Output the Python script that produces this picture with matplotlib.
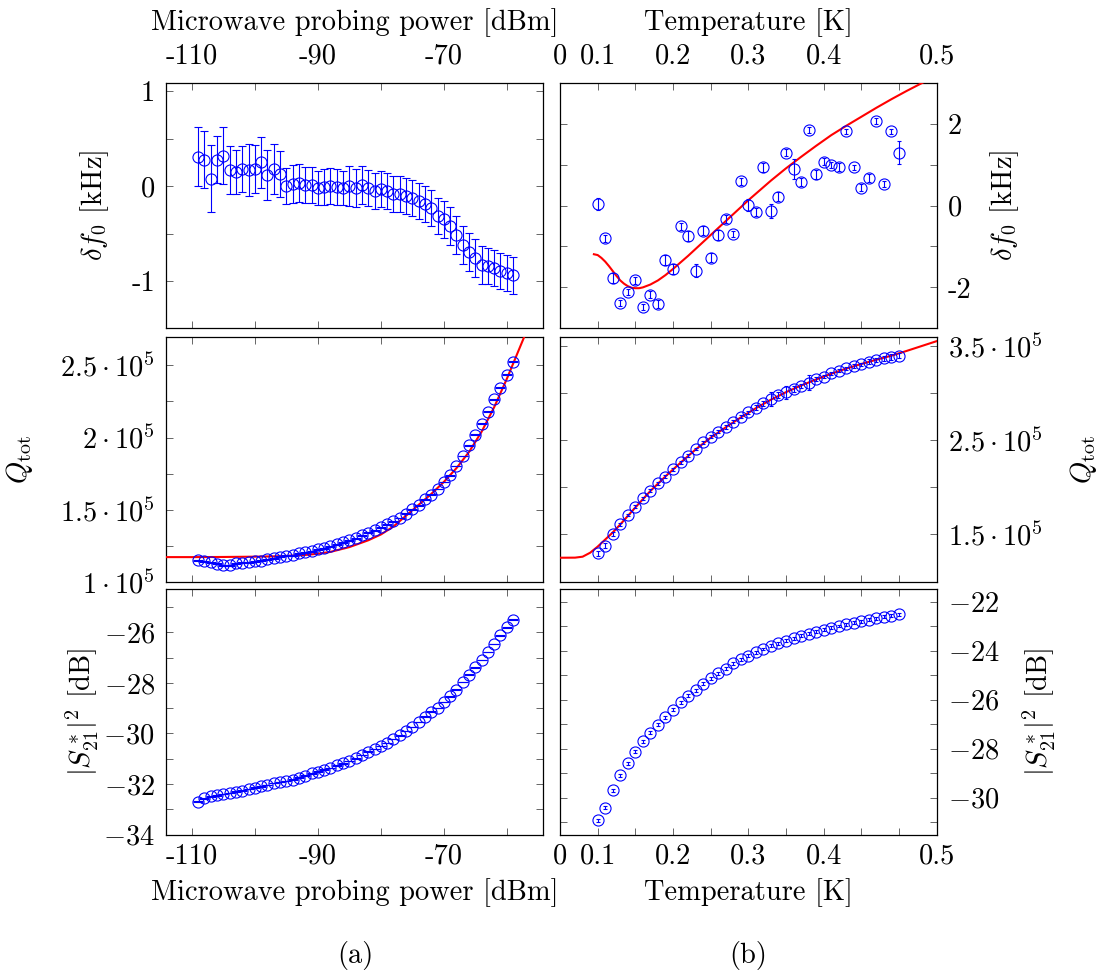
import numpy as np
import matplotlib
matplotlib.use('Agg')
import matplotlib.pyplot as plt

plt.rcParams['font.family'] = 'serif'
plt.rcParams['font.serif'] = ['cmr10']
plt.rcParams['mathtext.fontset'] = 'cm'
plt.rcParams['axes.unicode_minus'] = False
plt.rcParams['axes.formatter.use_mathtext'] = True

# ---- data, column (a): power sweep ----
power = list(range(-109, -58))   # dBm, 51 points

df_power = [0.31, 0.28, 0.08, 0.28, 0.32, 0.17, 0.15, 0.18, 0.17, 0.18,
            0.25, 0.12, 0.18, 0.13, 0.00, 0.02, 0.035, 0.01, 0.01, -0.02,
            -0.01, 0.00, -0.01, -0.02, 0.00, -0.02, 0.01, -0.02, -0.05, -0.03,
            -0.05, -0.08, -0.08, -0.10, -0.12, -0.16, -0.19, -0.23, -0.31, -0.35,
            -0.42, -0.51, -0.62, -0.69, -0.76, -0.83, -0.84, -0.86, -0.89, -0.91,
            -0.94]
df_power_err = [0.31, 0.30, 0.35, 0.25, 0.30, 0.25, 0.23, 0.24, 0.27, 0.25,
                0.27, 0.26, 0.26, 0.24, 0.19, 0.20, 0.20, 0.19, 0.19, 0.18,
                0.19, 0.19, 0.19, 0.18, 0.21, 0.20, 0.20, 0.19, 0.19, 0.19,
                0.19, 0.19, 0.19, 0.19, 0.19, 0.19, 0.19, 0.19, 0.19, 0.19,
                0.20, 0.20, 0.20, 0.20, 0.20, 0.20, 0.19, 0.19, 0.19, 0.19,
                0.19]

q_power = [115100, 114410, 113950, 112790, 111640, 111640, 113020, 113480, 113950, 114410,
           114870, 115790, 116710, 117640, 118330, 118790, 119940, 120640, 121330, 122710,
           123630, 125010, 126160, 127780, 128930, 130550, 132390, 134240, 135850, 137930,
           140000, 142080, 144390, 147380, 150380, 153150, 157300, 160530, 164500, 169290,
           173900, 180360, 187270, 194660, 202040, 209650, 217720, 226480, 234550, 243540,
           252300]
q_power_fit_x = [-115, -110, -105, -100, -96, -92, -90, -88, -85, -82, -80, -78, -76, -74,
                 -72, -70, -68, -66, -64, -62, -60, -58, -57]
q_power_fit = [117400, 117400, 117500, 117700, 118000, 118900, 119700, 121000, 124300, 129000,
               133000, 138500, 146000, 153500, 161000, 169300, 178800, 190000, 204000, 221000,
               240500, 261500, 272000]

s21_power = [-32.70, -32.57, -32.49, -32.45, -32.39, -32.35, -32.30, -32.26, -32.20, -32.14,
             -32.09, -32.04, -31.97, -31.93, -31.88, -31.83, -31.75, -31.67, -31.58, -31.51,
             -31.43, -31.36, -31.26, -31.18, -31.09, -30.99, -30.86, -30.72, -30.62, -30.50,
             -30.38, -30.21, -30.08, -29.91, -29.74, -29.54, -29.33, -29.14, -28.99, -28.76,
             -28.53, -28.26, -27.97, -27.67, -27.38, -27.09, -26.78, -26.46, -26.12, -25.80,
             -25.49]

# ---- data, column (b): temperature sweep ----
temperature = [t / 100 for t in range(5, 46)]   # 41 points

df_temp = [0.04, -0.80, -1.78, -2.38, -2.11, -1.83, -2.48, -2.18, -2.40, -1.33,
           -1.55, -0.51, -0.74, -1.59, -0.61, -1.27, -0.72, -0.33, -0.70, 0.59,
           0.02, -0.16, 0.93, -0.13, 0.22, 1.29, 0.89, 0.57, 1.85, 0.76,
           1.07, 0.99, 0.95, 1.82, 0.93, 0.44, 0.67, 2.07, 0.53, 1.82,
           1.29]
df_temp_err = [0.15, 0.08, 0.12, 0.08, 0.08, 0.08, 0.08, 0.08, 0.10, 0.12,
               0.12, 0.08, 0.12, 0.15, 0.10, 0.10, 0.12, 0.10, 0.08, 0.08,
               0.15, 0.10, 0.10, 0.18, 0.10, 0.08, 0.25, 0.10, 0.08, 0.10,
               0.08, 0.08, 0.10, 0.06, 0.05, 0.08, 0.10, 0.08, 0.08, 0.06,
               0.28]
df_temp_fit_x = [0.045, 0.05, 0.055, 0.06, 0.065, 0.07, 0.075, 0.08, 0.085, 0.09,
                 0.095, 0.10, 0.105, 0.11, 0.12, 0.13, 0.14, 0.15, 0.16, 0.17,
                 0.18, 0.19, 0.20, 0.21, 0.22, 0.23, 0.24, 0.25, 0.26, 0.27,
                 0.28, 0.29, 0.30, 0.32, 0.34, 0.36, 0.38, 0.40, 0.42, 0.44,
                 0.46, 0.48, 0.50]
df_temp_fit = [-1.19, -1.21, -1.28, -1.37, -1.48, -1.60, -1.72, -1.83, -1.91, -1.97,
               -2.01, -2.02, -2.02, -2.00, -1.93, -1.83, -1.70, -1.55, -1.39, -1.23,
               -1.06, -0.89, -0.72, -0.55, -0.38, -0.21, -0.04, 0.13, 0.29, 0.45,
               0.61, 0.76, 0.91, 1.19, 1.46, 1.72, 1.95, 2.17, 2.39, 2.60,
               2.80, 2.99, 3.18]

q_temp = [129830, 137960, 149980, 160580, 170470, 179310, 188140, 196270, 204050, 211120,
          218890, 226310, 233380, 240450, 247510, 253520, 258820, 264120, 269420, 274730,
          279320, 284270, 288860, 293460, 297700, 300520, 304060, 307590, 310770, 314660,
          317130, 320670, 323500, 325970, 328440, 330560, 333040, 334800, 336570, 338340,
          339400]
q_temp_err = [2600, 2600, 2200, 1500, 1500, 1500, 1500, 1500, 1500, 1500,
              1500, 1500, 1500, 1500, 1500, 1500, 1500, 2000, 1500, 1500,
              2000, 2500, 3000, 7000, 3000, 7000, 3000, 2000, 8000, 2000,
              1500, 1500, 1500, 2000, 2000, 1500, 2500, 2500, 2500, 3000,
              2500]
q_temp_fit_x = [0.0, 0.02, 0.03, 0.04, 0.05, 0.06, 0.07, 0.08, 0.10, 0.12,
                0.14, 0.16, 0.18, 0.20, 0.22, 0.24, 0.26, 0.28, 0.30, 0.32,
                0.34, 0.36, 0.38, 0.40, 0.42, 0.44, 0.46, 0.48, 0.50]
q_temp_fit = [125200, 125300, 126300, 130500, 137000, 144500, 152000, 160500, 178500, 196000,
              211500, 226000, 240000, 252500, 263500, 274000, 283800, 292800, 300800, 307800,
              314300, 320300, 325800, 330700, 335200, 339500, 344500, 349700, 354900]

s21_temp = [-30.91, -30.41, -29.69, -29.08, -28.59, -28.13, -27.70, -27.35, -27.02, -26.71,
            -26.40, -26.10, -25.84, -25.61, -25.34, -25.12, -24.92, -24.74, -24.52, -24.35,
            -24.20, -24.06, -23.93, -23.80, -23.70, -23.59, -23.49, -23.38, -23.30, -23.22,
            -23.14, -23.06, -22.99, -22.92, -22.85, -22.79, -22.73, -22.68, -22.62, -22.57,
            -22.52]

# ---- layout ----
fs = 20.5
fig = plt.figure(figsize=(11.07, 9.76), dpi=100)
W = 376.7 / 1107
H = 245.5 / 976
lefts = [166 / 1107, 560 / 1107]
bottoms = [1 - 328.3 / 976, 1 - 582.3 / 976, 1 - 834.5 / 976]
axs = [[fig.add_axes([l, b, W, H]) for l in lefts] for b in bottoms]

mk = dict(fmt='o', mfc='none', mec='blue', ms=8, mew=0.8, ecolor='blue',
          elinewidth=0.8, capthick=0.8)

for r in range(3):
    for c in range(2):
        ax = axs[r][c]
        for s in ax.spines.values():
            s.set_linewidth(0.9)
        ax.tick_params(direction='in', length=5, width=0.7, color='#666666',
                       top=True, bottom=True, left=True, right=True,
                       labelsize=fs, labelbottom=(r == 2), labeltop=(r == 0),
                       labelleft=(c == 0), labelright=(c == 1))
        ax.tick_params(axis='x', which='major', pad=6)
        ax.tick_params(axis='y', which='major', pad=8)
        if r == 0:
            ax.tick_params(axis='x', pad=9.5)
        if c == 0:
            ax.set_xlim(-114.1, -54.3)
            ax.set_xticks([-110, -100, -90, -80, -70, -60],
                          ['-110', '', '-90', '', '-70', ''])
        else:
            ax.set_xlim(0, 0.5)
            ax.set_xticks([0, 0.05, 0.1, 0.15, 0.2, 0.25, 0.3, 0.35, 0.4, 0.45, 0.5],
                          ['0', '0.1', '', '0.2', '', '0.3', '', '0.4', '', '', '0.5'])
            ax.yaxis.set_label_position('right')

# top row: frequency shift
ax = axs[0][0]
ax.errorbar(power, df_power, yerr=df_power_err, capsize=3, **mk)
ax.set_ylim(-1.496, 1.089)
ax.set_yticks([-1, -0.5, 0, 0.5, 1], ['-1', '', '0', '', '1'])
ax.set_ylabel(r'$\delta f_0$ [kHz]', fontsize=fs)
ax.yaxis.set_label_coords(-0.145, 0.5)
ax.xaxis.set_label_position('top')
ax.set_xlabel('Microwave probing power [dBm]', fontsize=fs)
ax.xaxis.set_label_coords(0.5, 1.215)

ax = axs[0][1]
ax.plot(df_temp_fit_x, df_temp_fit, color='red', lw=1.5, zorder=3)
ax.errorbar(temperature, df_temp, yerr=df_temp_err, capsize=1.5, zorder=4, **mk)
ax.set_ylim(-3, 3)
ax.set_yticks([-2, -1, 0, 1, 2], ['-2', '', '0', '', '2'])
ax.set_ylabel(r'$\delta f_0$ [kHz]', fontsize=fs)
ax.yaxis.set_label_coords(1.136, 0.5)
ax.xaxis.set_label_position('top')
ax.set_xlabel('Temperature [K]', fontsize=fs)
ax.xaxis.set_label_coords(0.5, 1.215)

# middle row: quality factor
ax = axs[1][0]
ax.plot(q_power_fit_x, q_power_fit, color='red', lw=1.5, zorder=3)
ax.errorbar(power, q_power, yerr=300, capsize=3.5, zorder=4, **mk)
ax.set_ylim(1.0e5, 2.696e5)
ax.set_yticks([1e5, 1.25e5, 1.5e5, 1.75e5, 2e5, 2.25e5, 2.5e5],
              [r'$1\cdot10^5$', '', r'$1.5\cdot10^5$', '', r'$2\cdot10^5$', '',
               r'$2.5\cdot10^5$'])
ax.set_ylabel(r'$Q_\mathrm{tot}$', fontsize=fs)
ax.yaxis.set_label_coords(-0.348, 0.5)

ax = axs[1][1]
ax.plot(q_temp_fit_x, q_temp_fit, color='red', lw=1.5, zorder=3)
ax.errorbar(temperature, q_temp, yerr=q_temp_err, capsize=1.5, zorder=4, **mk)
ax.set_ylim(99150, 359500)
ax.set_yticks([1.5e5, 2e5, 2.5e5, 3e5, 3.5e5],
              [r'$1.5\cdot10^5$', '', r'$2.5\cdot10^5$', '', r'$3.5\cdot10^5$'])
ax.set_ylabel(r'$Q_\mathrm{tot}$', fontsize=fs)
ax.yaxis.set_label_coords(1.349, 0.5)

# bottom row: transmission
ax = axs[2][0]
ax.errorbar(power, s21_power, yerr=0.01, capsize=3.5, **mk)
ax.set_ylim(-34, -24.28)
ax.set_yticks(list(range(-34, -24)),
              [r'$-34$', '', r'$-32$', '', r'$-30$', '', r'$-28$', '', r'$-26$', ''])
ax.set_ylabel(r'$|S_{21}^*|^2$ [dB]', fontsize=fs)
ax.yaxis.set_label_coords(-0.172, 0.5)
ax.set_xlabel('Microwave probing power [dBm]', fontsize=fs)
ax.xaxis.set_label_coords(0.5, -0.178)

ax = axs[2][1]
ax.errorbar(temperature, s21_temp, yerr=0.06, capsize=1.5, **mk)
ax.set_ylim(-31.5, -21.48)
ax.set_yticks(list(range(-31, -21)),
              ['', r'$-30$', '', r'$-28$', '', r'$-26$', '', r'$-24$', '', r'$-22$'])
ax.set_ylabel(r'$|S_{21}^*|^2$ [dB]', fontsize=fs)
ax.yaxis.set_label_coords(1.226, 0.5)
ax.set_xlabel('Temperature [K]', fontsize=fs)
ax.xaxis.set_label_coords(0.5, -0.178)

fig.text(355 / 1107, 1 - 955 / 976, '(a)', ha='center', va='center', fontsize=fs)
fig.text(748 / 1107, 1 - 955 / 976, '(b)', ha='center', va='center', fontsize=fs)

fig.savefig('out.png', dpi=100)
